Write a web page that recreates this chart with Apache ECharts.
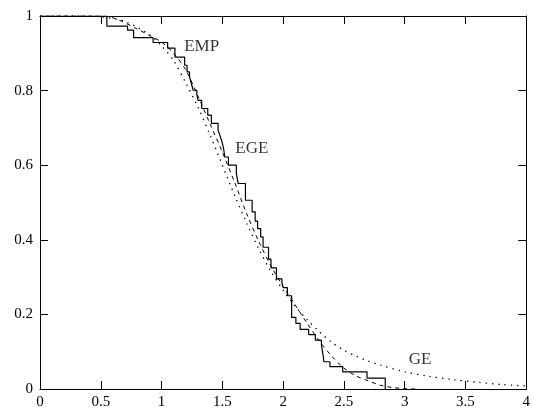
<!DOCTYPE html>
<html>
<head>
<meta charset="utf-8">
<script src="https://cdn.jsdelivr.net/npm/echarts@6/dist/echarts.min.js"></script>
<style>
  html, body { margin: 0; padding: 0; background: #fff; }
  #chart { width: 533px; height: 413px; }
</style>
</head>
<body>
<div id="chart"></div>
<script>
// empirical survival function: drop points and level after each drop
const empX = [0, 0.55, 0.72, 0.77, 0.93, 1.05, 1.11, 1.19, 1.21, 1.23, 1.245, 1.26, 1.29, 1.30, 1.33, 1.38, 1.41, 1.465, 1.48, 1.495, 1.51, 1.52, 1.55, 1.615, 1.63, 1.69, 1.745, 1.77, 1.79, 1.815, 1.835, 1.88, 1.90, 1.945, 1.99, 2.00, 2.035, 2.07, 2.105, 2.14, 2.21, 2.265, 2.315, 2.322, 2.33, 2.335, 2.385, 2.49, 2.69, 2.84]
const empS = [1, 0.973, 0.962, 0.942, 0.929, 0.914, 0.890, 0.868, 0.850, 0.837, 0.819, 0.801, 0.790, 0.774, 0.752, 0.734, 0.712, 0.694, 0.680, 0.665, 0.645, 0.622, 0.600, 0.578, 0.551, 0.506, 0.475, 0.450, 0.430, 0.408, 0.380, 0.348, 0.325, 0.295, 0.285, 0.272, 0.250, 0.192, 0.176, 0.160, 0.146, 0.131, 0.118, 0.104, 0.088, 0.073, 0.060, 0.046, 0.029, 0]

// fitted EGE curve (dashed)
const egeX = [0, 0.4, 0.6, 0.8, 0.9, 1.0, 1.1, 1.2, 1.3, 1.4, 1.5, 1.6, 1.7, 1.8, 1.9, 2.0, 2.1, 2.2, 2.3, 2.4, 2.5, 2.6, 2.7, 2.8, 2.9, 3.0, 3.1]
const egeS = [1, 1, 0.995, 0.965, 0.948, 0.93, 0.90, 0.855, 0.785, 0.71, 0.635, 0.555, 0.47, 0.395, 0.33, 0.275, 0.225, 0.175, 0.128, 0.088, 0.056, 0.035, 0.022, 0.01, 0.004, 0.001, 0]

// fitted GE curve (dotted)
const geX = [0, 0.3, 0.5, 0.7, 0.9, 1.0, 1.1, 1.2, 1.3, 1.4, 1.5, 1.6, 1.7, 1.8, 1.9, 2.0, 2.1, 2.2, 2.3, 2.4, 2.5, 2.6, 2.7, 2.8, 3.0, 3.2, 3.4, 3.6, 3.8, 4.0]
const geS = [1, 1, 0.998, 0.985, 0.95, 0.92, 0.88, 0.82, 0.755, 0.68, 0.60, 0.52, 0.445, 0.375, 0.315, 0.265, 0.222, 0.185, 0.153, 0.125, 0.104, 0.088, 0.075, 0.064, 0.046, 0.034, 0.025, 0.018, 0.012, 0.008]

// curve names placed in data coordinates
const labelX = [1.33, 1.743, 3.127]
const labelY = [0.919, 0.644, 0.078]
const labelText = ['EMP', 'EGE', 'GE']

const font = 'Liberation Serif'
const zip = (xs, ys) => xs.map((x, i) => [x, ys[i]])

const chart = echarts.init(document.getElementById('chart'))

const baseAxis = {
  type: 'value',
  axisLine: { show: true, onZero: false, lineStyle: { color: '#000', width: 1 } },
  axisTick: { show: true, inside: true, length: 8, lineStyle: { color: '#000' } },
  splitLine: { show: false }
}

const option = {
  animation: false,
  backgroundColor: '#fff',
  grid: { left: 40, right: 2, top: 16, bottom: 24, containLabel: false },
  xAxis: [
    Object.assign({}, baseAxis, {
      position: 'bottom', min: 0, max: 4, interval: 0.5,
      axisLabel: { color: '#000', fontFamily: font, fontSize: 15, margin: 6 }
    }),
    Object.assign({}, baseAxis, {
      position: 'top', min: 0, max: 4, interval: 0.5,
      axisLabel: { show: false }
    })
  ],
  yAxis: [
    Object.assign({}, baseAxis, {
      position: 'left', min: 0, max: 1, interval: 0.2,
      axisLabel: { color: '#000', fontFamily: font, fontSize: 15, margin: 7 }
    }),
    Object.assign({}, baseAxis, {
      position: 'right', min: 0, max: 1, interval: 0.2,
      axisLabel: { show: false }
    })
  ],
  series: [
    {
      name: 'EMP',
      type: 'line',
      step: 'end',
      data: zip(empX, empS),
      showSymbol: false,
      lineStyle: { color: '#000', width: 1.2 }
    },
    {
      name: 'EGE',
      type: 'line',
      smooth: 0.3,
      data: zip(egeX, egeS),
      showSymbol: false,
      lineStyle: { color: '#000', width: 1, type: [4, 4] }
    },
    {
      name: 'GE',
      type: 'line',
      smooth: 0.3,
      data: zip(geX, geS),
      showSymbol: false,
      lineStyle: { color: '#000', width: 1.3, type: [1.3, 5] }
    },
    {
      type: 'scatter',
      silent: true,
      symbolSize: 0,
      data: labelX.map((x, i) => [x, labelY[i], labelText[i]]),
      label: {
        show: true,
        position: 'inside',
        color: '#000',
        fontFamily: font,
        fontSize: 17,
        formatter: p => p.value[2]
      }
    }
  ]
}

chart.setOption(option)
</script>
</body>
</html>
